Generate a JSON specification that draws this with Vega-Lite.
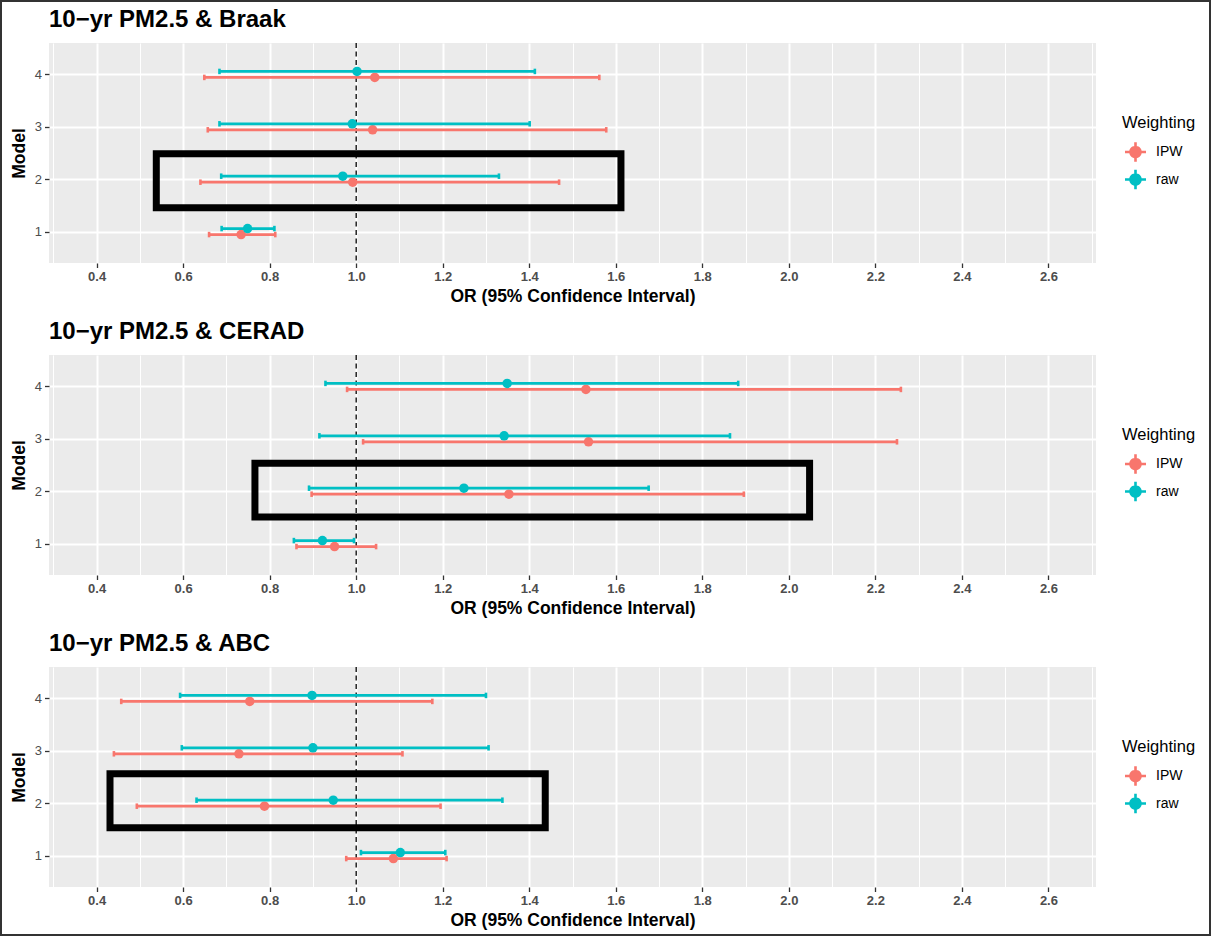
{
  "$schema": "https://vega.github.io/schema/vega-lite/v6.json",
  "padding": 0,
  "spacing": 0,
  "datasets": {
    "or": [
      {"outcome": "Braak", "model": 4, "weighting": "IPW", "or": 1.043, "lower": 0.649, "upper": 1.562},
      {"outcome": "Braak", "model": 4, "weighting": "raw", "or": 1.002, "lower": 0.684, "upper": 1.413},
      {"outcome": "Braak", "model": 3, "weighting": "IPW", "or": 1.038, "lower": 0.657, "upper": 1.578},
      {"outcome": "Braak", "model": 3, "weighting": "raw", "or": 0.991, "lower": 0.684, "upper": 1.401},
      {"outcome": "Braak", "model": 2, "weighting": "IPW", "or": 0.992, "lower": 0.640, "upper": 1.469},
      {"outcome": "Braak", "model": 2, "weighting": "raw", "or": 0.969, "lower": 0.688, "upper": 1.330},
      {"outcome": "Braak", "model": 1, "weighting": "IPW", "or": 0.734, "lower": 0.660, "upper": 0.813},
      {"outcome": "Braak", "model": 1, "weighting": "raw", "or": 0.749, "lower": 0.689, "upper": 0.811},
      {"outcome": "CERAD", "model": 4, "weighting": "IPW", "or": 1.531, "lower": 0.979, "upper": 2.259},
      {"outcome": "CERAD", "model": 4, "weighting": "raw", "or": 1.349, "lower": 0.929, "upper": 1.883},
      {"outcome": "CERAD", "model": 3, "weighting": "IPW", "or": 1.537, "lower": 1.016, "upper": 2.250},
      {"outcome": "CERAD", "model": 3, "weighting": "raw", "or": 1.342, "lower": 0.915, "upper": 1.864},
      {"outcome": "CERAD", "model": 2, "weighting": "IPW", "or": 1.353, "lower": 0.897, "upper": 1.896},
      {"outcome": "CERAD", "model": 2, "weighting": "raw", "or": 1.249, "lower": 0.891, "upper": 1.676},
      {"outcome": "CERAD", "model": 1, "weighting": "IPW", "or": 0.950, "lower": 0.862, "upper": 1.046},
      {"outcome": "CERAD", "model": 1, "weighting": "raw", "or": 0.922, "lower": 0.856, "upper": 0.995},
      {"outcome": "ABC", "model": 4, "weighting": "IPW", "or": 0.754, "lower": 0.457, "upper": 1.176},
      {"outcome": "ABC", "model": 4, "weighting": "raw", "or": 0.898, "lower": 0.593, "upper": 1.300},
      {"outcome": "ABC", "model": 3, "weighting": "IPW", "or": 0.729, "lower": 0.440, "upper": 1.107},
      {"outcome": "ABC", "model": 3, "weighting": "raw", "or": 0.900, "lower": 0.597, "upper": 1.306},
      {"outcome": "ABC", "model": 2, "weighting": "IPW", "or": 0.788, "lower": 0.493, "upper": 1.195},
      {"outcome": "ABC", "model": 2, "weighting": "raw", "or": 0.947, "lower": 0.631, "upper": 1.338},
      {"outcome": "ABC", "model": 1, "weighting": "IPW", "or": 1.086, "lower": 0.977, "upper": 1.209},
      {"outcome": "ABC", "model": 1, "weighting": "raw", "or": 1.102, "lower": 1.011, "upper": 1.206}
    ],
    "box": [
      {"outcome": "Braak", "xmin": 0.538, "xmax": 1.612, "ymin": 1.455, "ymax": 2.486},
      {"outcome": "CERAD", "xmin": 0.766, "xmax": 2.048, "ymin": 1.505, "ymax": 2.535},
      {"outcome": "ABC", "xmin": 0.431, "xmax": 1.437, "ymin": 1.531, "ymax": 2.562}
    ],
    "refline": [{"or": 1}],
    "none": []
  },
  "vconcat": [
    {"width": 1211, "height": 2, "view": {"fill": "#333333", "stroke": null}, "data": {"name": "none"}, "mark": "rule", "encoding": {}},
    {
      "hconcat": [
        {"width": 2, "height": 932, "view": {"fill": "#333333", "stroke": null}, "data": {"name": "none"}, "mark": "rule", "encoding": {}},
        {
          "vconcat": [
            {"width": 1207, "height": 6, "view": {"fill": "white", "stroke": null}, "data": {"name": "none"}, "mark": "rule", "encoding": {}},
            {
              "hconcat": [
                {"width": 8, "height": 1, "view": {"fill": "white", "stroke": null}, "data": {"name": "none"}, "mark": "rule", "encoding": {}},
                {
                  "vconcat": [
                    {
                      "title": {"text": "10−yr PM2.5 & Braak"},
                      "width": 1047, "height": 220,
                      "view": {"fill": "#EBEBEB", "stroke": null},
                      "layer": [
                        {
                          "data": {"name": "box"},
                          "transform": [{"filter": "datum.outcome === 'Braak'"}],
                          "mark": {"type": "rect", "filled": false, "stroke": "black", "strokeWidth": 7},
                          "encoding": {
                            "x": {"field": "xmin", "type": "quantitative", "title": "OR (95% Confidence Interval)",
                              "scale": {"domain": [0.29, 2.71], "nice": false, "zero": false},
                              "axis": {"values": [0.3,0.4,0.5,0.6,0.7,0.8,0.9,1.0,1.1,1.2,1.3,1.4,1.5,1.6,1.7,1.8,1.9,2.0,2.1,2.2,2.3,2.4,2.5,2.6,2.7],
                                "labelExpr": "round(datum.value*10) % 2 === 0 ? format(datum.value, '.1f') : ''",
                                "gridWidth": {"condition": {"test": "round(datum.value*10) % 2 === 0", "value": 2}, "value": 1},
                                "tickOpacity": {"condition": {"test": "round(datum.value*10) % 2 === 0", "value": 1}, "value": 0},
                                "labelOverlap": false, "labelFlush": false, "labelFontWeight": "bold", "labelPadding": 3, "titlePadding": 4}},
                            "x2": {"field": "xmax"},
                            "y": {"field": "ymin", "type": "quantitative", "title": "Model",
                              "scale": {"domain": [0.4, 4.6], "nice": false, "zero": false},
                              "axis": {"values": [1, 2, 3, 4], "format": "d", "gridWidth": 2, "labelPadding": 3, "titlePadding": 6}},
                            "y2": {"field": "ymax"}
                          }
                        },
                        {
                          "data": {"name": "refline"},
                          "mark": {"type": "rule", "color": "black", "strokeWidth": 1.3, "strokeDash": [5, 3.5]},
                          "encoding": {"x": {"field": "or", "type": "quantitative", "title": "OR (95% Confidence Interval)"}}
                        },
                        {
                          "data": {"name": "or"},
                          "transform": [{"filter": "datum.outcome === 'Braak' && datum.weighting === 'IPW'"}],
                          "encoding": {
                            "y": {"field": "model", "type": "quantitative", "title": "Model"},
                            "color": {"field": "weighting", "type": "nominal", "scale": {"domain": ["IPW", "raw"], "range": ["#F8766D", "#00BFC4"]},
                              "legend": {"title": "Weighting", "orient": "none", "legendX": 1073, "legendY": 72, "symbolType": "M-1,-0.124H1V0.124H-1Z M-0.124,-0.92H0.124V0.92H-0.124Z M0.6,0A0.6,0.6 0 1,1 -0.6,0A0.6,0.6 0 1,1 0.6,0Z"}}
                          },
                          "layer": [
                            {"mark": {"type": "point", "filled": true, "size": 90, "opacity": 1, "yOffset": 3}, "encoding": {"x": {"field": "or", "type": "quantitative", "title": "OR (95% Confidence Interval)"}}},
                            {"mark": {"type": "rule", "strokeWidth": 2.8, "yOffset": 3}, "encoding": {"x": {"field": "lower", "type": "quantitative", "title": "OR (95% Confidence Interval)"}, "x2": {"field": "upper"}}},
                            {"mark": {"type": "tick", "orient": "vertical", "size": 5.5, "thickness": 2.6, "opacity": 1, "yOffset": 3}, "encoding": {"x": {"field": "lower", "type": "quantitative", "title": "OR (95% Confidence Interval)"}}},
                            {"mark": {"type": "tick", "orient": "vertical", "size": 5.5, "thickness": 2.6, "opacity": 1, "yOffset": 3}, "encoding": {"x": {"field": "upper", "type": "quantitative", "title": "OR (95% Confidence Interval)"}}}
                          ]
                        },
                        {
                          "data": {"name": "or"},
                          "transform": [{"filter": "datum.outcome === 'Braak' && datum.weighting === 'raw'"}],
                          "encoding": {
                            "y": {"field": "model", "type": "quantitative", "title": "Model"},
                            "color": {"field": "weighting", "type": "nominal", "scale": {"domain": ["IPW", "raw"], "range": ["#F8766D", "#00BFC4"]},
                              "legend": {"title": "Weighting", "orient": "none", "legendX": 1073, "legendY": 72, "symbolType": "M-1,-0.124H1V0.124H-1Z M-0.124,-0.92H0.124V0.92H-0.124Z M0.6,0A0.6,0.6 0 1,1 -0.6,0A0.6,0.6 0 1,1 0.6,0Z"}}
                          },
                          "layer": [
                            {"mark": {"type": "point", "filled": true, "size": 90, "opacity": 1, "yOffset": -3}, "encoding": {"x": {"field": "or", "type": "quantitative", "title": "OR (95% Confidence Interval)"}}},
                            {"mark": {"type": "rule", "strokeWidth": 2.8, "yOffset": -3}, "encoding": {"x": {"field": "lower", "type": "quantitative", "title": "OR (95% Confidence Interval)"}, "x2": {"field": "upper"}}},
                            {"mark": {"type": "tick", "orient": "vertical", "size": 5.5, "thickness": 2.6, "opacity": 1, "yOffset": -3}, "encoding": {"x": {"field": "lower", "type": "quantitative", "title": "OR (95% Confidence Interval)"}}},
                            {"mark": {"type": "tick", "orient": "vertical", "size": 5.5, "thickness": 2.6, "opacity": 1, "yOffset": -3}, "encoding": {"x": {"field": "upper", "type": "quantitative", "title": "OR (95% Confidence Interval)"}}}
                          ]
                        }
                      ]
                    },
                    {
                      "title": {"text": "10−yr PM2.5 & CERAD"},
                      "width": 1047, "height": 220,
                      "view": {"fill": "#EBEBEB", "stroke": null},
                      "layer": [
                        {
                          "data": {"name": "box"},
                          "transform": [{"filter": "datum.outcome === 'CERAD'"}],
                          "mark": {"type": "rect", "filled": false, "stroke": "black", "strokeWidth": 7},
                          "encoding": {
                            "x": {"field": "xmin", "type": "quantitative", "title": "OR (95% Confidence Interval)",
                              "scale": {"domain": [0.29, 2.71], "nice": false, "zero": false},
                              "axis": {"values": [0.3,0.4,0.5,0.6,0.7,0.8,0.9,1.0,1.1,1.2,1.3,1.4,1.5,1.6,1.7,1.8,1.9,2.0,2.1,2.2,2.3,2.4,2.5,2.6,2.7],
                                "labelExpr": "round(datum.value*10) % 2 === 0 ? format(datum.value, '.1f') : ''",
                                "gridWidth": {"condition": {"test": "round(datum.value*10) % 2 === 0", "value": 2}, "value": 1},
                                "tickOpacity": {"condition": {"test": "round(datum.value*10) % 2 === 0", "value": 1}, "value": 0},
                                "labelOverlap": false, "labelFlush": false, "labelFontWeight": "bold", "labelPadding": 3, "titlePadding": 4}},
                            "x2": {"field": "xmax"},
                            "y": {"field": "ymin", "type": "quantitative", "title": "Model",
                              "scale": {"domain": [0.4, 4.6], "nice": false, "zero": false},
                              "axis": {"values": [1, 2, 3, 4], "format": "d", "gridWidth": 2, "labelPadding": 3, "titlePadding": 6}},
                            "y2": {"field": "ymax"}
                          }
                        },
                        {
                          "data": {"name": "refline"},
                          "mark": {"type": "rule", "color": "black", "strokeWidth": 1.3, "strokeDash": [5, 3.5]},
                          "encoding": {"x": {"field": "or", "type": "quantitative", "title": "OR (95% Confidence Interval)"}}
                        },
                        {
                          "data": {"name": "or"},
                          "transform": [{"filter": "datum.outcome === 'CERAD' && datum.weighting === 'IPW'"}],
                          "encoding": {
                            "y": {"field": "model", "type": "quantitative", "title": "Model"},
                            "color": {"field": "weighting", "type": "nominal", "scale": {"domain": ["IPW", "raw"], "range": ["#F8766D", "#00BFC4"]},
                              "legend": {"title": "Weighting", "orient": "none", "legendX": 1073, "legendY": 72, "symbolType": "M-1,-0.124H1V0.124H-1Z M-0.124,-0.92H0.124V0.92H-0.124Z M0.6,0A0.6,0.6 0 1,1 -0.6,0A0.6,0.6 0 1,1 0.6,0Z"}}
                          },
                          "layer": [
                            {"mark": {"type": "point", "filled": true, "size": 90, "opacity": 1, "yOffset": 3}, "encoding": {"x": {"field": "or", "type": "quantitative", "title": "OR (95% Confidence Interval)"}}},
                            {"mark": {"type": "rule", "strokeWidth": 2.8, "yOffset": 3}, "encoding": {"x": {"field": "lower", "type": "quantitative", "title": "OR (95% Confidence Interval)"}, "x2": {"field": "upper"}}},
                            {"mark": {"type": "tick", "orient": "vertical", "size": 5.5, "thickness": 2.6, "opacity": 1, "yOffset": 3}, "encoding": {"x": {"field": "lower", "type": "quantitative", "title": "OR (95% Confidence Interval)"}}},
                            {"mark": {"type": "tick", "orient": "vertical", "size": 5.5, "thickness": 2.6, "opacity": 1, "yOffset": 3}, "encoding": {"x": {"field": "upper", "type": "quantitative", "title": "OR (95% Confidence Interval)"}}}
                          ]
                        },
                        {
                          "data": {"name": "or"},
                          "transform": [{"filter": "datum.outcome === 'CERAD' && datum.weighting === 'raw'"}],
                          "encoding": {
                            "y": {"field": "model", "type": "quantitative", "title": "Model"},
                            "color": {"field": "weighting", "type": "nominal", "scale": {"domain": ["IPW", "raw"], "range": ["#F8766D", "#00BFC4"]},
                              "legend": {"title": "Weighting", "orient": "none", "legendX": 1073, "legendY": 72, "symbolType": "M-1,-0.124H1V0.124H-1Z M-0.124,-0.92H0.124V0.92H-0.124Z M0.6,0A0.6,0.6 0 1,1 -0.6,0A0.6,0.6 0 1,1 0.6,0Z"}}
                          },
                          "layer": [
                            {"mark": {"type": "point", "filled": true, "size": 90, "opacity": 1, "yOffset": -3}, "encoding": {"x": {"field": "or", "type": "quantitative", "title": "OR (95% Confidence Interval)"}}},
                            {"mark": {"type": "rule", "strokeWidth": 2.8, "yOffset": -3}, "encoding": {"x": {"field": "lower", "type": "quantitative", "title": "OR (95% Confidence Interval)"}, "x2": {"field": "upper"}}},
                            {"mark": {"type": "tick", "orient": "vertical", "size": 5.5, "thickness": 2.6, "opacity": 1, "yOffset": -3}, "encoding": {"x": {"field": "lower", "type": "quantitative", "title": "OR (95% Confidence Interval)"}}},
                            {"mark": {"type": "tick", "orient": "vertical", "size": 5.5, "thickness": 2.6, "opacity": 1, "yOffset": -3}, "encoding": {"x": {"field": "upper", "type": "quantitative", "title": "OR (95% Confidence Interval)"}}}
                          ]
                        }
                      ]
                    },
                    {
                      "title": {"text": "10−yr PM2.5 & ABC"},
                      "width": 1047, "height": 220,
                      "view": {"fill": "#EBEBEB", "stroke": null},
                      "layer": [
                        {
                          "data": {"name": "box"},
                          "transform": [{"filter": "datum.outcome === 'ABC'"}],
                          "mark": {"type": "rect", "filled": false, "stroke": "black", "strokeWidth": 7},
                          "encoding": {
                            "x": {"field": "xmin", "type": "quantitative", "title": "OR (95% Confidence Interval)",
                              "scale": {"domain": [0.29, 2.71], "nice": false, "zero": false},
                              "axis": {"values": [0.3,0.4,0.5,0.6,0.7,0.8,0.9,1.0,1.1,1.2,1.3,1.4,1.5,1.6,1.7,1.8,1.9,2.0,2.1,2.2,2.3,2.4,2.5,2.6,2.7],
                                "labelExpr": "round(datum.value*10) % 2 === 0 ? format(datum.value, '.1f') : ''",
                                "gridWidth": {"condition": {"test": "round(datum.value*10) % 2 === 0", "value": 2}, "value": 1},
                                "tickOpacity": {"condition": {"test": "round(datum.value*10) % 2 === 0", "value": 1}, "value": 0},
                                "labelOverlap": false, "labelFlush": false, "labelFontWeight": "bold", "labelPadding": 3, "titlePadding": 4}},
                            "x2": {"field": "xmax"},
                            "y": {"field": "ymin", "type": "quantitative", "title": "Model",
                              "scale": {"domain": [0.4, 4.6], "nice": false, "zero": false},
                              "axis": {"values": [1, 2, 3, 4], "format": "d", "gridWidth": 2, "labelPadding": 3, "titlePadding": 6}},
                            "y2": {"field": "ymax"}
                          }
                        },
                        {
                          "data": {"name": "refline"},
                          "mark": {"type": "rule", "color": "black", "strokeWidth": 1.3, "strokeDash": [5, 3.5]},
                          "encoding": {"x": {"field": "or", "type": "quantitative", "title": "OR (95% Confidence Interval)"}}
                        },
                        {
                          "data": {"name": "or"},
                          "transform": [{"filter": "datum.outcome === 'ABC' && datum.weighting === 'IPW'"}],
                          "encoding": {
                            "y": {"field": "model", "type": "quantitative", "title": "Model"},
                            "color": {"field": "weighting", "type": "nominal", "scale": {"domain": ["IPW", "raw"], "range": ["#F8766D", "#00BFC4"]},
                              "legend": {"title": "Weighting", "orient": "none", "legendX": 1073, "legendY": 72, "symbolType": "M-1,-0.124H1V0.124H-1Z M-0.124,-0.92H0.124V0.92H-0.124Z M0.6,0A0.6,0.6 0 1,1 -0.6,0A0.6,0.6 0 1,1 0.6,0Z"}}
                          },
                          "layer": [
                            {"mark": {"type": "point", "filled": true, "size": 90, "opacity": 1, "yOffset": 3}, "encoding": {"x": {"field": "or", "type": "quantitative", "title": "OR (95% Confidence Interval)"}}},
                            {"mark": {"type": "rule", "strokeWidth": 2.8, "yOffset": 3}, "encoding": {"x": {"field": "lower", "type": "quantitative", "title": "OR (95% Confidence Interval)"}, "x2": {"field": "upper"}}},
                            {"mark": {"type": "tick", "orient": "vertical", "size": 5.5, "thickness": 2.6, "opacity": 1, "yOffset": 3}, "encoding": {"x": {"field": "lower", "type": "quantitative", "title": "OR (95% Confidence Interval)"}}},
                            {"mark": {"type": "tick", "orient": "vertical", "size": 5.5, "thickness": 2.6, "opacity": 1, "yOffset": 3}, "encoding": {"x": {"field": "upper", "type": "quantitative", "title": "OR (95% Confidence Interval)"}}}
                          ]
                        },
                        {
                          "data": {"name": "or"},
                          "transform": [{"filter": "datum.outcome === 'ABC' && datum.weighting === 'raw'"}],
                          "encoding": {
                            "y": {"field": "model", "type": "quantitative", "title": "Model"},
                            "color": {"field": "weighting", "type": "nominal", "scale": {"domain": ["IPW", "raw"], "range": ["#F8766D", "#00BFC4"]},
                              "legend": {"title": "Weighting", "orient": "none", "legendX": 1073, "legendY": 72, "symbolType": "M-1,-0.124H1V0.124H-1Z M-0.124,-0.92H0.124V0.92H-0.124Z M0.6,0A0.6,0.6 0 1,1 -0.6,0A0.6,0.6 0 1,1 0.6,0Z"}}
                          },
                          "layer": [
                            {"mark": {"type": "point", "filled": true, "size": 90, "opacity": 1, "yOffset": -3}, "encoding": {"x": {"field": "or", "type": "quantitative", "title": "OR (95% Confidence Interval)"}}},
                            {"mark": {"type": "rule", "strokeWidth": 2.8, "yOffset": -3}, "encoding": {"x": {"field": "lower", "type": "quantitative", "title": "OR (95% Confidence Interval)"}, "x2": {"field": "upper"}}},
                            {"mark": {"type": "tick", "orient": "vertical", "size": 5.5, "thickness": 2.6, "opacity": 1, "yOffset": -3}, "encoding": {"x": {"field": "lower", "type": "quantitative", "title": "OR (95% Confidence Interval)"}}},
                            {"mark": {"type": "tick", "orient": "vertical", "size": 5.5, "thickness": 2.6, "opacity": 1, "yOffset": -3}, "encoding": {"x": {"field": "upper", "type": "quantitative", "title": "OR (95% Confidence Interval)"}}}
                          ]
                        }
                      ]
                    }
                  ],
                  "spacing": 15,
                  "resolve": {"scale": {"color": "independent"}, "legend": {"color": "independent"}}
                }
              ],
              "spacing": 0,
              "resolve": {"scale": {"color": "independent"}, "legend": {"color": "independent"}}
            }
          ],
          "spacing": 0,
          "resolve": {"scale": {"color": "independent"}, "legend": {"color": "independent"}}
        },
        {"width": 2, "height": 932, "view": {"fill": "#333333", "stroke": null}, "data": {"name": "none"}, "mark": "rule", "encoding": {}}
      ],
      "spacing": 0,
      "resolve": {"scale": {"color": "independent"}, "legend": {"color": "independent"}}
    },
    {"width": 1211, "height": 2, "view": {"fill": "#333333", "stroke": null}, "data": {"name": "none"}, "mark": "rule", "encoding": {}}
  ],
  "resolve": {"scale": {"color": "independent"}, "legend": {"color": "independent"}},
  "config": {
    "font": "Liberation Sans",
    "view": {"stroke": null},
    "axis": {"domain": false, "grid": true, "gridColor": "white", "tickColor": "#333333", "tickSize": 4.5, "tickWidth": 1.3,
      "labelColor": "#4D4D4D", "labelFontSize": 13, "titleFontSize": 17.5, "titleFontWeight": "bold", "titleColor": "black"},
    "title": {"anchor": "start", "frame": "group", "fontSize": 24, "fontWeight": "bold", "color": "black", "offset": 10},
    "legend": {"symbolSize": 441, "symbolStrokeWidth": 0, "symbolOpacity": 1, "symbolOffset": 3,
      "titleFontSize": 16.5, "titleFontWeight": "normal", "titleColor": "black", "titlePadding": 10,
      "labelFontSize": 14, "labelColor": "black", "labelOffset": 10, "rowPadding": 6.5, "padding": 0}
  }
}
